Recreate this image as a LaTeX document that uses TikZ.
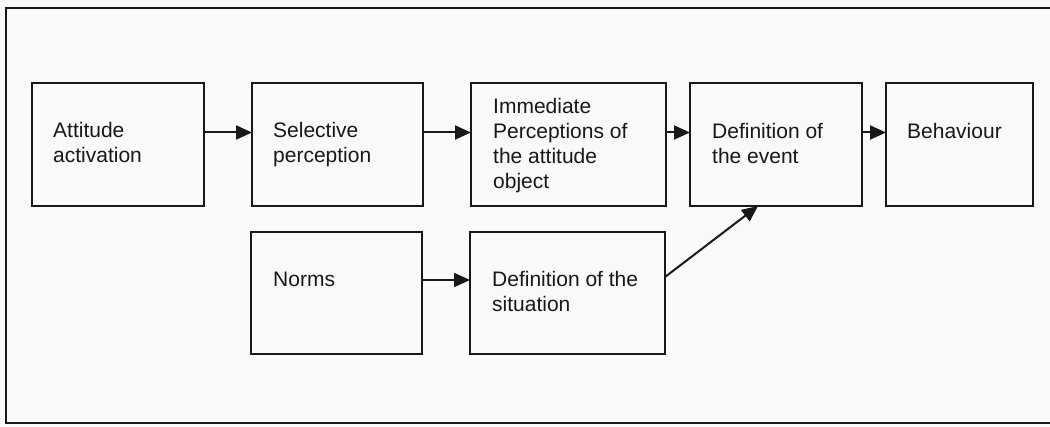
\documentclass[tikz,border=0pt]{standalone}
\usepackage{fontspec}
\setmainfont{Liberation Sans}
\usetikzlibrary{arrows.meta}
\definecolor{paper}{RGB}{249,249,249}
\definecolor{ink}{RGB}{24,24,24}
\begin{document}
\begin{tikzpicture}[x=1pt,y=-1pt,
  flowbox/.style={draw=ink, line width=2.2pt, fill=paper, anchor=north west,
    inner sep=0pt, outer sep=0pt},
  boxtext/.style={anchor=base west, inner sep=0pt, align=left, text=ink,
    font=\fontsize{21}{25}\selectfont},
  arr/.style={draw=ink, line width=2pt, -{Triangle[length=16pt,width=14pt]}}]
  % page and outer frame (its right side runs off the page)
  \useasboundingbox (0,0) rectangle (1050,427);
  \fill[paper] (0,0) rectangle (1050,427);
  \draw[ink, line width=2.2pt] (1060,8) -- (6,8) -- (6,423) -- (1060,423);

  % top row
  \node[flowbox, minimum width=172pt, minimum height=123pt] (att) at (32,83) {};
  \node[flowbox, minimum width=171pt, minimum height=123pt] (sel) at (252,83) {};
  \node[flowbox, minimum width=195pt, minimum height=123pt] (imm) at (471,83) {};
  \node[flowbox, minimum width=172pt, minimum height=123pt] (evt) at (690,83) {};
  \node[flowbox, minimum width=147pt, minimum height=123pt] (beh) at (886,83) {};
  % bottom row
  \node[flowbox, minimum width=171pt, minimum height=122pt] (nor) at (251,232) {};
  \node[flowbox, minimum width=195pt, minimum height=122pt] (sit) at (470,232) {};

  % labels (anchored on the baseline of their last line)
  \node[boxtext] (attT) at ([xshift=21pt,yshift=-80pt]att.north west) {Attitude\\activation};
  \node[boxtext] (selT) at ([xshift=21pt,yshift=-80pt]sel.north west) {Selective\\perception};
  \node[boxtext] (immT) at ([xshift=22pt,yshift=-106pt]imm.north west) {Immediate\\Perceptions of\\the attitude\\object};
  \node[boxtext] (evtT) at ([xshift=22pt,yshift=-81pt]evt.north west) {Definition of\\the event};
  \node[boxtext] (behT) at ([xshift=21pt,yshift=-56pt]beh.north west) {Behaviour};
  \node[boxtext] (norT) at ([xshift=22pt,yshift=-55pt]nor.north west) {Norms};
  \node[boxtext] (sitT) at ([xshift=22pt,yshift=-80pt]sit.north west) {Definition of the\\situation};

  % connectors
  \draw[arr] ([yshift=12pt]att.east) -- ([yshift=12pt]sel.west);
  \draw[arr] ([yshift=12pt]sel.east) -- ([yshift=12pt]imm.west);
  \draw[arr] ([yshift=12pt]imm.east) -- ([yshift=12pt]evt.west);
  \draw[arr] ([yshift=12pt]evt.east) -- ([yshift=12pt]beh.west);
  \draw[arr] ([yshift=13pt]nor.east) -- ([yshift=13pt]sit.west);
  \draw[arr] ([yshift=16pt]sit.east) -- ([xshift=-18pt]evt.south);
\end{tikzpicture}
\end{document}
